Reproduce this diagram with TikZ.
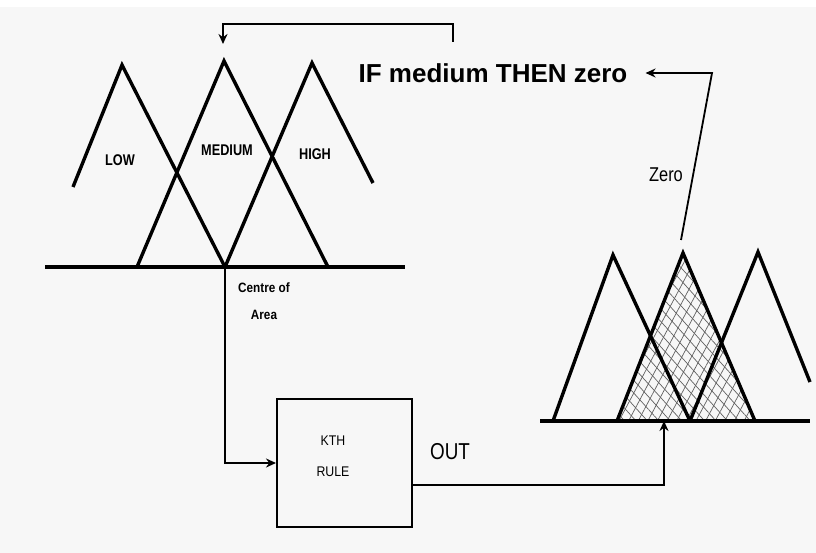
\documentclass[tikz,border=0pt]{standalone}
\usepackage{fontspec}
\setmainfont{Liberation Sans}
\usetikzlibrary{arrows.meta, patterns.meta, positioning}
\definecolor{fzBg}{HTML}{F7F7F7}
\definecolor{fzHatch}{HTML}{606060}

\begin{document}
\begin{tikzpicture}[x=1pt, y=-1pt,
  mf/.style={line width=3.4pt, line join=miter},
  con/.style={line width=1.8pt},
  arr/.style={con, -{Stealth[length=10pt, width=9pt]}},
  blk/.style={draw, line width=2pt, minimum width=135pt, minimum height=128pt, inner sep=0pt},
  bl/.style={font=\bfseries\fontsize{#1}{#1}\selectfont, inner sep=0pt},
  tx/.style={font=\fontsize{#1}{#1}\selectfont, inner sep=0pt},
  hatch/.style={pattern={Lines[angle=#1, distance=8.5pt, line width=0.7pt]}, pattern color=fzHatch},
]
  % background
  \fill[white] (0,0) rectangle (816,553);
  \fill[fzBg] (0,7) rectangle (816,553);
  \useasboundingbox (0,0) rectangle (816,553);

  % input sets
  \coordinate (lowL) at (73,187);
  \coordinate (lowP) at (122,65);
  \coordinate (coa) at (225,267);
  \coordinate (medL) at (137,267);
  \coordinate (medP) at (224,61);
  \coordinate (medR) at (328,267);
  \coordinate (highP) at (312,63);
  \coordinate (highR) at (373,183);
  \draw[mf] (45,267) -- (405,267);
  \draw[mf] (lowL) -- (lowP) -- (coa);
  \draw[mf] (medL) -- (medP) -- (medR);
  \draw[mf] (coa) -- (highP) -- (highR);
  \node[bl=15.5, xscale=0.82, transform shape] (low) at (120,160) {LOW};
  \node[bl=15.5, xscale=0.82, transform shape] (medium) at (227,150) {MEDIUM};
  \node[bl=15.5, xscale=0.82, transform shape] (high) at (315,154) {HIGH};
  \node[font=\bfseries\fontsize{13.5}{27}\selectfont, align=center, inner sep=0pt, xscale=0.87, transform shape] (coaTxt) at (264,301) {Centre of\\Area};

  % output sets
  \coordinate (z1L) at (553,421);
  \coordinate (z1P) at (613,255);
  \coordinate (z1R) at (690,421);
  \coordinate (z2L) at (617,421);
  \coordinate (z2P) at (683,253);
  \coordinate (z2R) at (755,421);
  \coordinate (z3P) at (758,252);
  \coordinate (z3R) at (810,382);
  \fill[hatch=62] (z2L) -- (z2P) -- (z2R) -- cycle;
  \fill[hatch=-48] (z2L) -- (z2P) -- (z2R) -- cycle;
  \draw[mf] (540,421) -- (810,421);
  \draw[mf] (z1L) -- (z1P) -- (z1R);
  \draw[mf] (z2L) -- (z2P) -- (z2R);
  \draw[mf] (z1R) -- (z3P) -- (z3R);

  % rule block
  \node[blk] (rule) at (344.5,463) {};
  \node[font=\fontsize{14}{31}\selectfont, align=center, inner sep=0pt, xscale=0.88, transform shape] (kth) at (333,456) {KTH\\RULE};
  \node[tx=23, xscale=0.82, transform shape] (out) at (450,452) {OUT};
  \coordinate (zIn) at (664,421);
  \draw[arr] (coa) |- (rule.west);
  \draw[arr] (rule.-18) -| (zIn);

  % rule text and feedback
  \node[bl=26, inner xsep=18pt] (ifthen) at (493,73) {IF medium THEN zero};
  \node[tx=20, xscale=0.82, transform shape] (zero) at (666,175) {Zero};
  \coordinate (zTop) at (681,240);
  \coordinate (bend) at (712,73);
  \draw[arr] (zTop) -- (bend) -- (ifthen.east);
  \coordinate (tick) at (453,42);
  \coordinate (fbTop) at (453,24);
  \coordinate (fbEnd) at (223,44);
  \draw[arr] (tick) -- (fbTop) -| (fbEnd);
\end{tikzpicture}
\end{document}
